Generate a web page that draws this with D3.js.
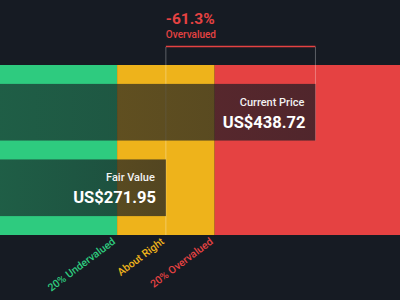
<!DOCTYPE html>
<html>
<head>
<meta charset="utf-8">
<script src="https://cdn.jsdelivr.net/npm/d3@7"></script>
<style>
  html, body { margin: 0; padding: 0; background: #161b23; }
  svg { display: block; font-family: Roboto, "Noto Sans", sans-serif; }
</style>
</head>
<body>
<div id="chart"></div>
<script>
// values
var rowNames = ["Current Price", "Fair Value"];
var rowValues = [438.72, 271.95];
var rowLabels = ["US$438.72", "US$271.95"];
var zoneNames = ["20% Undervalued", "About Right", "20% Overvalued"];
var zoneEdges = [217.56, 271.95, 326.34];
var valueRange = [87, 533];
var diffText = "-61.3%";
var diffLabel = "Overvalued";

var W = 400, H = 300;
var green = "#2ecb7f", yellow = "#eeb31b", red = "#e54242", bg = "#161b23";

var svg = d3.select("#chart").append("svg")
    .attr("width", W)
    .attr("height", H);

svg.append("rect").attr("width", W).attr("height", H).attr("fill", bg);

var x = d3.scaleLinear().domain(valueRange).range([0, W]);
var y = d3.scaleBand().domain(rowNames).range([65, 235])
    .paddingInner(0.25).paddingOuter(0.25);

var bandTop = 65, bandBottom = 235;

// coloured zones
var zones = [
  {name: zoneNames[0], from: valueRange[0], to: zoneEdges[0], color: green},
  {name: zoneNames[1], from: zoneEdges[0], to: zoneEdges[2], color: yellow},
  {name: zoneNames[2], from: zoneEdges[2], to: valueRange[1], color: red}
];

svg.selectAll(".zone")
    .data(zones)
  .enter().append("rect")
    .attr("class", "zone")
    .attr("x", function(d) { return x(d.from); })
    .attr("width", function(d) { return x(d.to) - x(d.from); })
    .attr("y", bandTop)
    .attr("height", bandBottom - bandTop)
    .attr("fill", function(d) { return d.color; });

// gradient for the dark bars
var defs = svg.append("defs");
var grad = defs.append("linearGradient").attr("id", "barGrad")
    .attr("x1", "0%").attr("x2", "100%");
grad.append("stop").attr("offset", "0%").attr("stop-color", bg).attr("stop-opacity", 0.62);
grad.append("stop").attr("offset", "100%").attr("stop-color", bg).attr("stop-opacity", 0.72);

var rows = rowNames.map(function(n, i) {
  return {name: n, value: rowValues[i], label: rowLabels[i]};
});

// vertical guide lines
svg.append("line")
    .attr("x1", x(rowValues[1])).attr("x2", x(rowValues[1]))
    .attr("y1", 47).attr("y2", bandBottom)
    .attr("stroke", "#ffffff").attr("stroke-opacity", 0.3).attr("stroke-width", 1);
svg.append("line")
    .attr("x1", x(rowValues[0])).attr("x2", x(rowValues[0]))
    .attr("y1", 47).attr("y2", y(rowNames[0]) + y.bandwidth())
    .attr("stroke", "#ffffff").attr("stroke-opacity", 0.3).attr("stroke-width", 1);

// red bracket line on top
svg.append("line")
    .attr("x1", x(rowValues[1])).attr("x2", x(rowValues[0]))
    .attr("y1", 46.5).attr("y2", 46.5)
    .attr("stroke", red).attr("stroke-width", 1.5);

// dark bars
svg.selectAll(".bar")
    .data(rows)
  .enter().append("rect")
    .attr("class", "bar")
    .attr("x", x(valueRange[0]))
    .attr("y", function(d) { return y(d.name); })
    .attr("width", function(d) { return x(d.value) - x(valueRange[0]); })
    .attr("height", y.bandwidth())
    .attr("fill", "url(#barGrad)");

svg.selectAll(".barName")
    .data(rows)
  .enter().append("text")
    .attr("class", "barName")
    .attr("x", function(d) { return x(d.value) - 11; })
    .attr("y", function(d) { return y(d.name) + 22; })
    .attr("text-anchor", "end")
    .attr("fill", "#f2f2f2")
    .style("font-size", "11px")
    .style("font-weight", "500")
    .text(function(d) { return d.name; });

svg.selectAll(".barValue")
    .data(rows)
  .enter().append("text")
    .attr("class", "barValue")
    .attr("x", function(d) { return x(d.value) - 10; })
    .attr("y", function(d) { return y(d.name) + 44; })
    .attr("text-anchor", "end")
    .attr("fill", "#ffffff")
    .style("font-size", "16.5px")
    .style("font-weight", "700")
    .text(function(d) { return d.label; });

// percentage text
svg.append("text")
    .attr("x", x(rowValues[1]))
    .attr("y", 24)
    .attr("fill", red)
    .style("font-size", "15.5px")
    .style("font-weight", "700")
    .text(diffText);
svg.append("text")
    .attr("x", x(rowValues[1]))
    .attr("y", 37.5)
    .attr("fill", red)
    .style("font-size", "10px")
    .style("font-weight", "500")
    .text(diffLabel);

// rotated zone labels
var zoneLabelColors = [green, yellow, red];
svg.selectAll(".zoneLabel")
    .data(zoneEdges)
  .enter().append("text")
    .attr("class", "zoneLabel")
    .attr("transform", function(d) { return "translate(" + (x(d) - 1) + "," + 243 + ") rotate(-37)"; })
    .attr("text-anchor", "end")
    .attr("fill", function(d, i) { return zoneLabelColors[i]; })
    .style("font-size", "10.5px")
    .style("font-weight", "500")
    .text(function(d, i) { return zoneNames[i]; });
</script>
</body>
</html>
